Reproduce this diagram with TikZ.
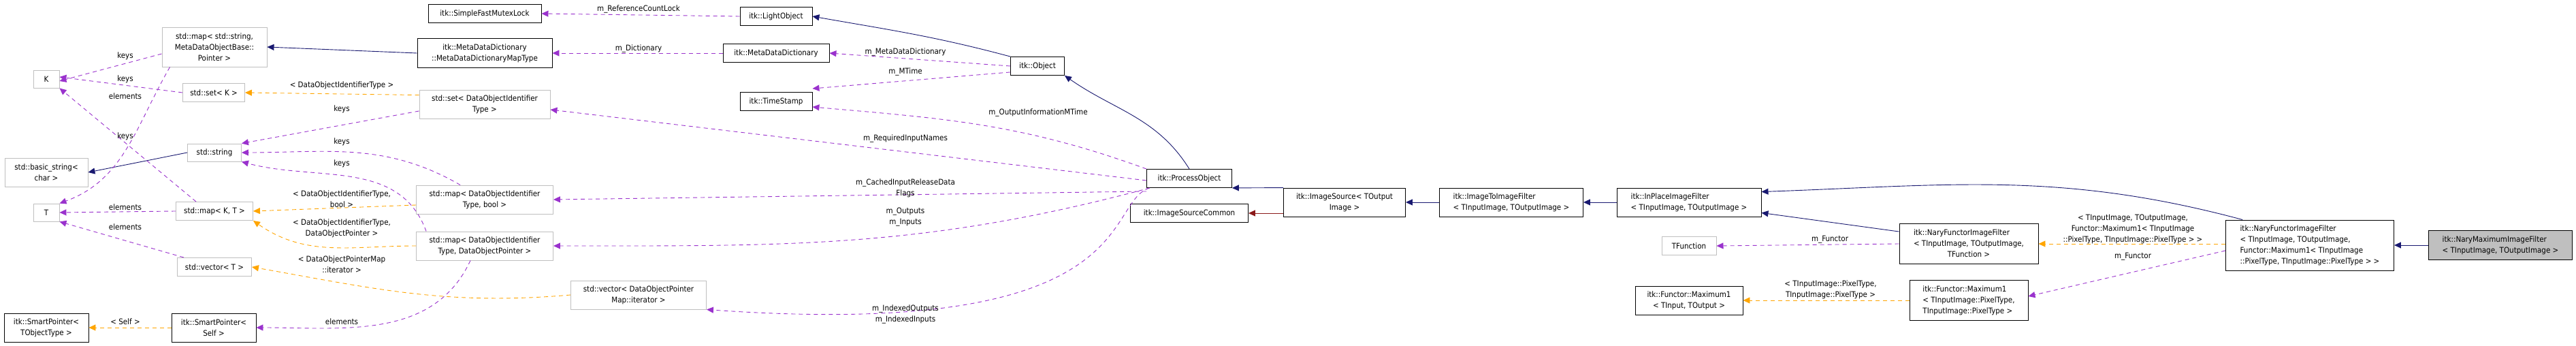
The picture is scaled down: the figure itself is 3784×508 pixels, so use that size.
\documentclass[tikz,border=0pt]{standalone}
\usepackage{fontspec}
\setmainfont{DejaVu Sans Condensed}
\usetikzlibrary{arrows.meta}
\definecolor{navy}{HTML}{191970}
\definecolor{usepurple}{HTML}{9A32CD}
\definecolor{tmplorange}{HTML}{FFA500}
\definecolor{firebrick}{HTML}{8B1A1A}
\definecolor{graybd}{HTML}{BFBFBF}
\tikzset{
  box/.style={draw=black,line width=0.9pt,fill=white,inner sep=2pt,font=\fontsize{11.5}{16}\selectfont,align=center},
  gbox/.style={box,draw=graybd},
  lbl/.style={font=\fontsize{11.5}{16}\selectfont,inner sep=0pt,align=center},
  inh/.style={draw=navy,line width=0.9pt,-{Triangle[length=10pt,width=9pt]}},
  prv/.style={draw=firebrick,line width=0.9pt,-{Triangle[length=10pt,width=9pt]}},
  use/.style={draw=usepurple,line width=0.9pt,dash pattern=on 6pt off 5pt,-{Triangle[length=10pt,width=9pt]}},
  tpl/.style={draw=tmplorange,line width=0.9pt,dash pattern=on 6pt off 5pt,-{Triangle[length=10pt,width=9pt]}},
}
\newcommand{\bx}[6]{\node[#1,minimum width=#4pt,minimum height=#5pt] (#2) at (#3) {#6};}
\begin{document}
\begin{tikzpicture}[x=1pt,y=-1pt]
\useasboundingbox (0,0) rectangle (3784,508);
% nodes
\bx{gbox}{mapStr}{315,69}{154}{58}{std::map< std::string,\\MetaDataObjectBase::\\Pointer >}
\bx{gbox}{K}{68,116}{38}{26}{K}
\bx{gbox}{setK}{314,136}{91}{27}{std::set< K >}
\bx{gbox}{str}{315,224}{79}{26}{std::string}
\bx{gbox}{bstr}{68,253}{122}{42}{std::basic\_string<\\char >}
\bx{gbox}{T}{68,312}{38}{26}{T}
\bx{gbox}{mapKT}{315,310}{113}{27}{std::map< K, T >}
\bx{gbox}{vecT}{315,392}{109}{27}{std::vector< T >}
\bx{box}{spT}{68,481}{124}{42}{itk::SmartPointer<\\TObjectType >}
\bx{box}{spS}{314,481}{124}{42}{itk::SmartPointer<\\Self >}
\bx{box}{sfml}{712,20}{166}{27}{itk::SimpleFastMutexLock}
\bx{box}{mddmap}{712,78}{198}{43}{itk::MetaDataDictionary\\::MetaDataDictionaryMapType}
\bx{gbox}{setD}{712,153}{192}{42}{std::set< DataObjectIdentifier\\Type >}
\bx{gbox}{mapB}{712,293}{201}{42}{std::map< DataObjectIdentifier\\Type, bool >}
\bx{gbox}{mapP}{712,361}{201}{42}{std::map< DataObjectIdentifier\\Type, DataObjectPointer >}
\bx{box}{light}{1140,24}{106}{27}{itk::LightObject}
\bx{box}{mdd}{1140,78}{156}{27}{itk::MetaDataDictionary}
\bx{box}{ts}{1140,149}{106}{27}{itk::TimeStamp}
\bx{gbox}{vecD}{938,433}{199}{42}{std::vector< DataObjectPointer\\Map::iterator >}
\bx{box}{obj}{1524,97}{79}{27}{itk::Object}
\bx{box}{po}{1747,262}{125}{27}{itk::ProcessObject}
\bx{box}{isc}{1747,313}{173}{27}{itk::ImageSourceCommon}
\bx{box}{isrc}{1975,297}{179}{42}{itk::ImageSource< TOutput\\Image >}
\bx{box}{i2i}{2220,297}{211}{42}{\begin{tabular}{@{}l@{}}itk::ImageToImageFilter\\< TInputImage, TOutputImage >\end{tabular}}
\bx{box}{inpl}{2481,297}{212}{42}{\begin{tabular}{@{}l@{}}itk::InPlaceImageFilter\\< TInputImage, TOutputImage >\end{tabular}}
\bx{gbox}{tfun}{2481,361}{80}{27}{TFunction}
\bx{box}{max1}{2481,441}{158}{42}{itk::Functor::Maximum1\\< TInput, TOutput >}
\bx{box}{nfl}{2892,358}{204}{59}{\begin{tabular}{@{}l@{}}itk::NaryFunctorImageFilter\\< TInputImage, TOutputImage,\\\multicolumn{1}{c}{TFunction >}\end{tabular}}
\bx{box}{max1p}{2892,441}{174}{59}{\begin{tabular}{@{}l@{}}itk::Functor::Maximum1\\< TInputImage::PixelType,\\ TInputImage::PixelType >\end{tabular}}
\bx{box}{nfr}{3393,360}{247}{74}{\begin{tabular}{@{}l@{}}itk::NaryFunctorImageFilter\\< TInputImage, TOutputImage,\\ Functor::Maximum1< TInputImage\\::PixelType, TInputImage::PixelType > >\end{tabular}}
\bx{box,fill=graybd}{nmax}{3673,360}{211}{43}{\begin{tabular}{@{}l@{}}itk::NaryMaximumImageFilter\\< TInputImage, TOutputImage >\end{tabular}}
% inheritance
\draw[inh] (mddmap.west) -- (mapStr.east);
\draw[inh] (str.west) -- (bstr.east);
\draw[inh] (obj.north west) to[out=165,in=-10] (light.east);
\draw[inh] (po.north) to[out=122,in=-35] (obj.south east);
\draw[inh] (isrc.north west) -- (po.south east);
\draw[prv] (isrc.west |- isc.east) -- (isc.east);
\draw[inh] (i2i.west) -- (isrc.east);
\draw[inh] (inpl.west) -- (i2i.east);
\draw[inh] (nfr.north west) ++(25,0) to[out=165,in=2] ([yshift=-6pt]inpl.north east);
\draw[inh] (nfl.north west) ++(0,12) -- ([yshift=6pt]inpl.south east);
\draw[inh] (nmax.west) -- (nfr.east);
% usage
\draw[use] ([yshift=-10pt]mapStr.west) -- ([yshift=-3pt]K.east);
\draw[use] (setK.west) -- ([yshift=3pt]K.east);
\draw[use] (mapStr.south west) ++(12,0) to[out=240,in=20] (T.north east);
\draw[use] (mapKT.north west) ++(30,0) -- (K.south east);
\draw[use] (mapKT.west) -- (T.east);
\draw[use] (vecT.north west) ++(10,0) -- (T.south east);
\draw[use] (setD.west) ++(0,10) -- (str.north east);
\draw[use] (mapB.north west) ++(65,0) to[out=150,in=0] (str.east);
\draw[use] (mapP.north west) ++(15,0) to[out=110,in=-15] (str.south east);
\draw[use] (mapP.south west) ++(80,0) to[out=-115,in=0] (spS.east);
\draw[use] (light.west) -- (sfml.east);
\draw[use] (mdd.west) -- (mddmap.east);
\draw[use] (obj.west) -- (mdd.east);
\draw[use] (obj.south west) ++(0,-5) -- ([yshift=5pt]ts.north east);
\draw[use] (po.north west) ++(0,0) to[out=160,in=-5] ([yshift=-8pt]ts.east);
\draw[use] (po.west) ++(0,3) -- ([yshift=-8pt]setD.east);
\draw[use] (po.south west) ++(0,5) -- (mapB.east);
\draw[use] (po.south west) ++(5,0) to[out=195,in=0] (mapP.east);
\draw[use] (po.south west) ++(4,0) .. controls (1620,300) and (1680,500) .. (vecD.south east);
\draw[use] (nfl.west) -- (tfun.east);
\draw[use] ([yshift=-8pt]nfr.west) -- ([yshift=6pt]max1p.east);
% template
\draw[tpl] (setD.north west) ++(0,8) -- (setK.east);
\draw[tpl] (mapB.west) ++(0,8) -- (mapKT.east);
\draw[tpl] (mapP.west) to[out=180,in=-35] (mapKT.south east);
\draw[tpl] (vecD.west) to[out=185,in=-10] (vecT.east);
\draw[tpl] (spS.west) -- (spT.east);
\draw[tpl] (nfr.west |- nfl.east) -- (nfl.east);
\draw[tpl] (max1p.west) -- (max1.east);
% labels
\node[lbl] (l1) at (184,82) {keys};
\node[lbl] (l2) at (184,116) {keys};
\node[lbl] (l3) at (184,141) {elements};
\node[lbl] (l4) at (184,200) {keys};
\node[lbl] (l5) at (184,304) {elements};
\node[lbl] (l6) at (184,333) {elements};
\node[lbl] (l7) at (184,472) {< Self >};
\node[lbl] (l8) at (502,125) {< DataObjectIdentifierType >};
\node[lbl] (l9) at (502,160) {keys};
\node[lbl] (l10) at (502,208) {keys};
\node[lbl] (l11) at (502,240) {keys};
\node[lbl] (l12) at (502,292) {< DataObjectIdentifierType,\\bool >};
\node[lbl] (l13) at (502,335) {< DataObjectIdentifierType,\\DataObjectPointer >};
\node[lbl] (l14) at (502,388) {< DataObjectPointerMap\\::iterator >};
\node[lbl] (l15) at (502,472) {elements};
\node[lbl] (l16) at (938,13) {m\_ReferenceCountLock};
\node[lbl] (l17) at (938,71) {m\_Dictionary};
\node[lbl] (l18) at (1330,76) {m\_MetaDataDictionary};
\node[lbl] (l19) at (1330,105) {m\_MTime};
\node[lbl] (l20) at (1525,165) {m\_OutputInformationMTime};
\node[lbl] (l21) at (1330,203) {m\_RequiredInputNames};
\node[lbl] (l22) at (1330,276) {m\_CachedInputReleaseData\\Flags};
\node[lbl] (l23) at (1330,319) {m\_Outputs\\m\_Inputs};
\node[lbl] (l24) at (1330,461) {m\_IndexedOutputs\\m\_IndexedInputs};
\node[lbl] (l25) at (2688,352) {m\_Functor};
\node[lbl] (l26) at (3133,336) {< TInputImage, TOutputImage,\\Functor::Maximum1< TInputImage\\::PixelType, TInputImage::PixelType > >};
\node[lbl] (l27) at (3133,377) {m\_Functor};
\node[lbl] (l28) at (2689,425) {< TInputImage::PixelType,\\TInputImage::PixelType >};
\end{tikzpicture}
\end{document}
